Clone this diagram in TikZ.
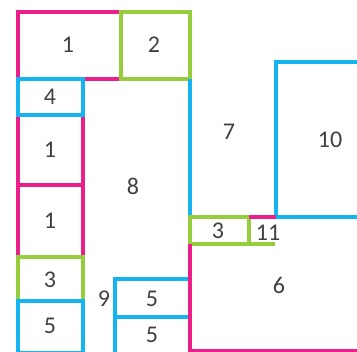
\documentclass[tikz,border=0pt]{standalone}
\usepackage{fontspec}
\setmainfont{Carlito}
\usetikzlibrary{positioning}
\definecolor{pinkline}{RGB}{236,30,140}
\definecolor{blueline}{RGB}{20,180,240}
\definecolor{greenline}{RGB}{150,205,60}

\begin{document}
\begin{tikzpicture}[x=1pt,y=-1pt,line width=3.2pt,
  pinkbox/.style={draw=pinkline},
  bluebox/.style={draw=blueline},
  greenbox/.style={draw=greenline},
  lbl/.style={font=\fontsize{24}{24}\selectfont,text=black!75}]
\useasboundingbox (0,0) rectangle (357,352);
% left column
\draw[pinkbox] (18,12) rectangle (121,79);
\draw[pinkbox] (18,115) rectangle (83,185);
\draw[pinkbox] (18,185) rectangle (83,257);
\draw[greenbox] (121,12) rectangle (190,79);
\draw[greenbox] (18,257) rectangle (83,301);
\draw[bluebox] (18,79) rectangle (83,115);
\draw[bluebox] (18,301) rectangle (83,353);
% middle
\draw[bluebox] (190,79) -- (190,217);
\draw[bluebox] (115,279) rectangle (190,317);
\draw[bluebox] (115,317) rectangle (190,355);
% right side
\draw[bluebox] (276,62) rectangle (362,217);
\draw[greenbox] (190,217) rectangle (249,244);
\draw[greenbox] (249,217) -- (249,244) -- (275,244);
\draw[pinkbox] (249,217) -- (276,217);
\draw[pinkbox] (190,244) -- (190,351) -- (360,351);
% labels
\node[lbl] (a1) at (68,45) {1};
\node[lbl] (a2) at (154,45) {2};
\node[lbl] (a4) at (50,97) {4};
\node[lbl] (b1) at (50,150) {1};
\node[lbl] (c1) at (50,221) {1};
\node[lbl] (a3) at (50,280) {3};
\node[lbl] (a5) at (50,326) {5};
\node[lbl] (a8) at (133,186) {8};
\node[lbl] (a9) at (104,299) {9};
\node[lbl] (b5) at (152,299) {5};
\node[lbl] (c5) at (152,335) {5};
\node[lbl] (a7) at (229,132) {7};
\node[lbl] (a10) at (330,140) {10};
\node[lbl] (b3) at (218,231) {3};
\node[lbl] (a11) at (268,233) {11};
\node[lbl] (a6) at (279,285) {6};
\end{tikzpicture}
\end{document}
